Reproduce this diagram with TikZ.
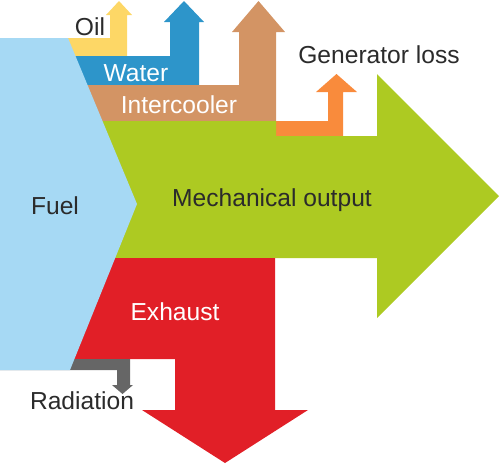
\documentclass[tikz,border=0pt]{standalone}
\usepackage{fontspec}
\setmainfont{Liberation Sans}
\usetikzlibrary{positioning}
\definecolor{fuelblue}{HTML}{A6D9F4}
\definecolor{oilyellow}{HTML}{FDD766}
\definecolor{waterblue}{HTML}{2D95CA}
\definecolor{coolertan}{HTML}{D39464}
\definecolor{mechgreen}{HTML}{ADCA22}
\definecolor{genorange}{HTML}{F98B3C}
\definecolor{exhaustred}{HTML}{E11F27}
\definecolor{radgray}{HTML}{666666}
\definecolor{inkgray}{HTML}{2B2B2B}
\tikzstyle{flow} = [draw=none]
\tikzstyle{darklabel} = [text=inkgray, font=\fontsize{14}{16}\selectfont, anchor=base, inner sep=0pt]
\tikzstyle{lightlabel} = [darklabel, text=white]

\begin{document}
\begin{tikzpicture}[x=0.02cm, y=-0.02cm]
        \useasboundingbox (0,0) rectangle (500,464);
        % Flows
        \fill [flow, oilyellow] (0,38) -- (110,38) -- (110,15) -- (106,15) -- (119,1) -- (132,15) -- (127,15) -- (127,56) -- (0,56) -- cycle;
        \fill [flow, waterblue] (0,56) -- (170,56) -- (170,22) -- (164,22) -- (184,1) -- (204,22) -- (199,22) -- (199,85) -- (0,85) -- cycle;
        \fill [flow, coolertan] (0,85) -- (239,85) -- (239,32) -- (232,32) -- (258.5,1) -- (285,32) -- (276,32) -- (276,121) -- (0,121) -- cycle;
        \fill [flow, genorange] (276,121) -- (328,121) -- (328,92) -- (316,92) -- (336.5,74) -- (357,92) -- (343,92) -- (343,136) -- (276,136) -- cycle;
        \fill [flow, mechgreen] (0,121) -- (276,121) -- (276,136) -- (377,136) -- (377,74) -- (499,196) -- (377,318) -- (377,258) -- (0,258) -- cycle;
        \fill [flow, exhaustred] (0,258) -- (275,258) -- (275,410) -- (308,410) -- (225,463) -- (142,410) -- (175,410) -- (175,359) -- (0,359) -- cycle;
        \fill [flow, radgray] (0,359) -- (130,359) -- (130,385) -- (133,385) -- (122.5,394) -- (112,385) -- (117,385) -- (117,370) -- (0,370) -- cycle;
        \fill [flow, fuelblue] (0,38) -- (68,38) -- (137,204) -- (70,370) -- (0,370) -- cycle;

        % Labels
        \node [darklabel] (oil) at (90,35) {Oil};
        \node [lightlabel] (water) at (136,81) {Water};
        \node [lightlabel] (intercooler) at (179,113) {Intercooler};
        \node [darklabel] (genloss) at (379,63) {Generator loss};
        \node [darklabel] (fuel) at (55,214) {Fuel};
        \node [darklabel] (mech) at (272,206) {Mechanical output};
        \node [lightlabel] (exhaust) at (175,320) {Exhaust};
        \node [darklabel] (radiation) at (82,409) {Radiation};
    \end{tikzpicture}
\end{document}
